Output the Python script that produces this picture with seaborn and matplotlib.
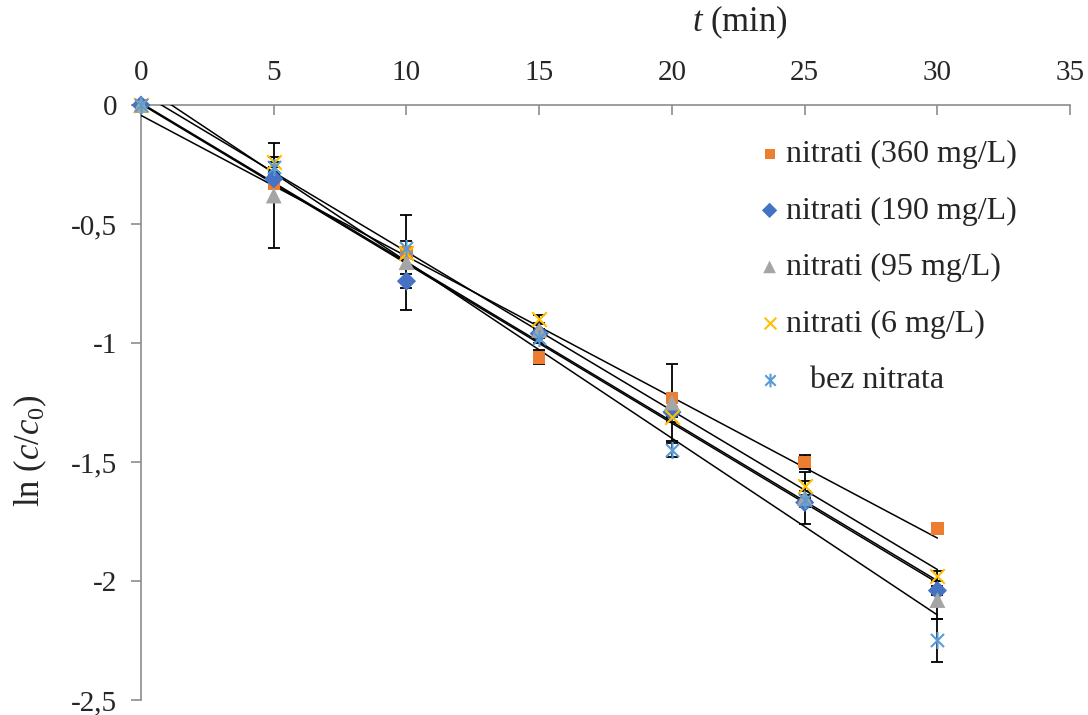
import numpy as np
import pandas as pd
import matplotlib
matplotlib.use('Agg')
import matplotlib.pyplot as plt
from matplotlib.path import Path
from matplotlib.ticker import FuncFormatter
import seaborn as sns

# podaci ocitani s grafa
t = [0, 5, 10, 15, 20, 25, 30]
y_360 = [0, -0.33, -0.62, -1.06, -1.23, -1.50, -1.78]
y_190 = [0, -0.31, -0.74, -0.96, -1.29, -1.67, -2.04]
y_95 = [0, -0.38, -0.66, -0.945, -1.25, -1.65, -2.08]
y_6 = [0, -0.24, -0.62, -0.90, -1.31, -1.60, -1.98]
y_bez = [0, -0.26, -0.60, -0.98, -1.45, -1.66, -2.25]

err_360 = [0, 0.02, 0.02, 0.03, 0.02, 0.03, 0.0]
err_190 = [0, 0.02, 0.03, 0.02, 0.02, 0.02, 0.02]
err_95 = [0, 0.22, 0.20, 0.03, 0.16, 0.11, 0.08]
err_6 = [0, 0.02, 0.02, 0.02, 0.02, 0.02, 0.02]
err_bez = [0, 0.02, 0.03, 0.02, 0.03, 0.02, 0.09]

labels = ['nitrati (360 mg/L)', 'nitrati (190 mg/L)', 'nitrati (95 mg/L)',
          'nitrati (6 mg/L)', '   bez nitrata']
colors = ['#ED7D31', '#4472C4', '#A5A5A5', '#FFC000', '#5B9BD5']

# excel-like asterisk (x + vertikalna crta)
asterisk = Path([(-1, -1), (1, 1), (-1, 1), (1, -1), (0, -1.3), (0, 1.3)],
                [Path.MOVETO, Path.LINETO, Path.MOVETO, Path.LINETO, Path.MOVETO, Path.LINETO])
markers = ['s', 'D', '^', 'x', asterisk]
sizes = [80, 95, 130, 110, 150]

series = [y_360, y_190, y_95, y_6, y_bez]
errors = [err_360, err_190, err_95, err_6, err_bez]

sns.set_theme(style="white")
plt.rcParams['font.family'] = ['Liberation Serif', 'DejaVu Serif']
plt.rcParams['mathtext.fontset'] = 'custom'
plt.rcParams['mathtext.rm'] = 'Liberation Serif'
plt.rcParams['mathtext.it'] = 'Liberation Serif:italic'

fig = plt.figure(figsize=(10.88, 7.15), dpi=100)
ax = fig.add_axes([0.1296, 0.021, 0.854, 0.832])

for y, e, lab, c, m, s in zip(series, errors, labels, colors, markers, sizes):
    df = pd.DataFrame({'t': t, 'y': y})
    ax.errorbar(t, y, yerr=e, fmt='none', ecolor='black', elinewidth=1.3,
                capsize=4.5, capthick=1.3, zorder=2)
    sns.regplot(data=df, x='t', y='y', scatter=False, ci=None, ax=ax,
                line_kws={'color': 'black', 'lw': 1.1, 'zorder': 3})
    lw = 1.5 if m == 'x' or isinstance(m, Path) else 0
    sns.scatterplot(data=df, x='t', y='y', ax=ax, marker=m, s=s, color=c,
                    edgecolor=c if lw else 'none', linewidth=lw, label=lab,
                    zorder=4, clip_on=False)

ax.set_xlim(0, 35)
ax.set_ylim(-2.5, 0)
ax.set_xticks(range(0, 36, 5))
ax.set_yticks([0, -0.5, -1, -1.5, -2, -2.5])
ax.yaxis.set_major_formatter(FuncFormatter(lambda v, p: ('%g' % v).replace('.', ',')))

ax.xaxis.tick_top()
ax.xaxis.set_label_position('top')
ax.set_xlabel(r'$t$ (min)', fontsize=25, va='center')
ax.set_ylabel(r'ln ($c$/$c_0$)', fontsize=25, va='center')
ax.xaxis.set_label_coords(0.645, 1.139)
ax.yaxis.set_label_coords(-0.1195, 0.42)

for side in ['right', 'bottom']:
    ax.spines[side].set_visible(False)
for side in ['top', 'left']:
    ax.spines[side].set_color('#8C8C8C')
    ax.spines[side].set_linewidth(1.2)

ax.tick_params(axis='x', direction='in', length=7, width=1.2, color='#8C8C8C',
               labelsize=21, pad=14)
ax.tick_params(axis='y', direction='out', length=7, width=1.2, color='#8C8C8C',
               labelsize=21, pad=10)
ax.tick_params(axis='x', top=True, bottom=False)
ax.tick_params(axis='y', left=True)

leg = ax.legend(loc='upper left', bbox_to_anchor=(0.649, 0.963), frameon=False,
                fontsize=23, handlelength=0.8, handletextpad=0.1, labelspacing=0.85,
                markerscale=0.8, borderaxespad=0)

plt.savefig('out.png', dpi=100)
plt.close()
